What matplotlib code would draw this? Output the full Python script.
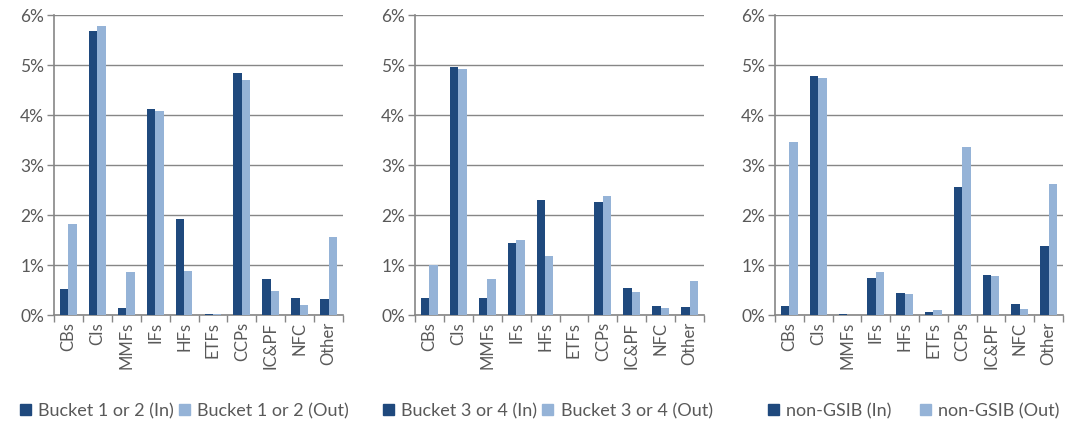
import numpy as np
import matplotlib
matplotlib.use("Agg")
import matplotlib.pyplot as plt
from matplotlib.patches import Patch
from matplotlib.ticker import FixedLocator

plt.rcParams['font.family'] = ['Lato', 'DejaVu Sans']

# categories shared by all three panels
categories = ['CBs', 'CIs', 'MMFs', 'IFs', 'HFs', 'ETFs', 'CCPs', 'IC&PF', 'NFC', 'Other']

# values in percent
b12_in = [0.52, 5.68, 0.15, 4.13, 1.93, 0.03, 4.84, 0.73, 0.35, 0.32]
b12_out = [1.82, 5.79, 0.87, 4.09, 0.88, 0.02, 4.70, 0.49, 0.21, 1.56]
b34_in = [0.34, 4.96, 0.34, 1.45, 2.30, 0.00, 2.27, 0.55, 0.19, 0.17]
b34_out = [1.01, 4.93, 0.72, 1.50, 1.18, 0.00, 2.38, 0.46, 0.15, 0.69]
ngsib_in = [0.18, 4.78, 0.03, 0.74, 0.45, 0.07, 2.56, 0.81, 0.23, 1.39]
ngsib_out = [3.46, 4.74, 0.01, 0.87, 0.43, 0.10, 3.36, 0.79, 0.12, 2.63]

panels = [
    ('Bucket 1 or 2', b12_in, b12_out),
    ('Bucket 3 or 4', b34_in, b34_out),
    ('non-GSIB', ngsib_in, ngsib_out),
]

dark = '#1F497D'
light = '#95B3D7'
grey = '#868686'
text_grey = '#595959'

fig = plt.figure(figsize=(10.65, 4.28), dpi=100)

lefts = [54, 415, 775]
widths = [289, 289, 288]
legend_x = [20, 383, 768]

x = np.arange(len(categories))
bw = 0.29

for i, (name, vin, vout) in enumerate(panels):
    ax = fig.add_axes([lefts[i] / 1065, 113 / 428, widths[i] / 1065, 300 / 428])
    ax.bar(x - bw / 2, vin, width=bw, color=dark, zorder=3)
    ax.bar(x + bw / 2, vout, width=bw, color=light, zorder=3)
    ax.set_xlim(-0.5, len(categories) - 0.5)
    ax.set_ylim(0, 6)
    ax.set_yticks(range(7))
    ax.set_yticklabels([f'{v}%' for v in range(7)], fontsize=12.5, color=text_grey)
    ax.set_xticks(x)
    ax.set_xticklabels(categories, rotation=90, fontsize=12, color=text_grey)
    ax.tick_params(axis='x', which='major', length=0, pad=5)
    ax.xaxis.set_minor_locator(FixedLocator(np.arange(-0.5, len(categories), 1)))
    ax.tick_params(axis='x', which='minor', length=5, color=grey, width=1)
    ax.tick_params(axis='y', length=5, color=grey, width=1, pad=2)
    ax.grid(axis='y', color=grey, linewidth=1, zorder=0)
    for s in ['top', 'right']:
        ax.spines[s].set_visible(False)
    for s in ['left', 'bottom']:
        ax.spines[s].set_color(grey)
        ax.spines[s].set_linewidth(1.2)

    handles = [Patch(color=dark, label=f'{name} (In)'),
               Patch(color=light, label=f'{name} (Out)')]
    fig.legend(handles=handles, loc='center left',
               bbox_to_anchor=(legend_x[i] / 1065, 1 - 411 / 428),
               ncol=2, frameon=False, fontsize=13, labelcolor=text_grey,
               handlelength=0.6, handleheight=0.6, handletextpad=0.4,
               columnspacing=0.3 if i < 2 else 1.6, borderaxespad=0, borderpad=0)

fig.savefig('out.png', dpi=100)
